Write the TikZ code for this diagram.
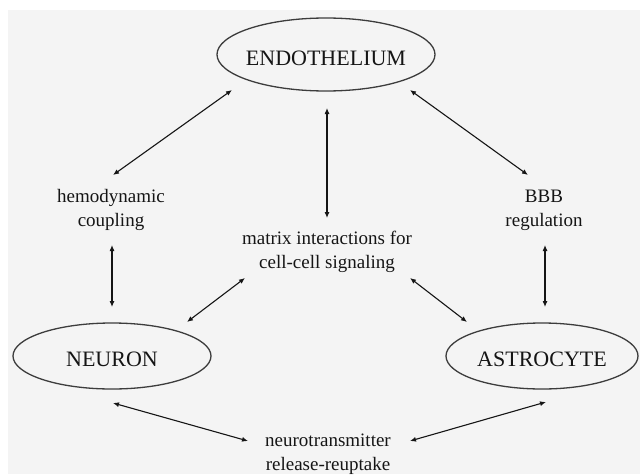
\documentclass[tikz,border=0pt]{standalone}
\usepackage{fontspec}
\setmainfont{Liberation Serif}
\usetikzlibrary{arrows.meta,shapes.geometric}
\definecolor{bgray}{HTML}{F4F4F4}
\definecolor{ink}{HTML}{151515}
\definecolor{edge}{HTML}{3C3C3C}
\begin{document}
\begin{tikzpicture}[x=1pt,y=-1pt,
  cell/.style={ellipse,draw=edge,line width=1.3pt,inner xsep=-8pt,inner ysep=0pt,
    text height=22pt,text depth=0.5pt,
    font=\fontsize{22}{26}\selectfont,text=ink},
  lab/.style={align=center,inner sep=0pt,font=\fontsize{19}{24}\selectfont,text=ink},
  arr/.style={draw=ink,line width=1.1pt,{Latex[length=6pt,width=5pt]}-{Latex[length=6pt,width=5pt]}}]
\useasboundingbox (0,0) rectangle (640,474);
\fill[white] (0,0) rectangle (640,474);
\fill[bgray] (8,10) rectangle (640,474);
% cells
\node[cell,minimum width=218pt,minimum height=73pt] (endo) at (326,54.5) {ENDOTHELIUM};
\node[cell,minimum width=198pt,minimum height=66pt] (neuron) at (112,356) {NEURON};
\node[cell,minimum width=192pt,minimum height=66pt] (astro) at (542,356) {ASTROCYTE};
% labels
\node[lab] (hemo) at (111,210) {hemodynamic\\coupling};
\node[lab] (bbb) at (544,210) {BBB\\regulation};
\node[lab] (matrix) at (327,252) {matrix interactions for\\cell-cell signaling};
\node[lab] (nt) at (328,454) {neurotransmitter\\release-reuptake};
% connectors
\draw[arr] ([shift={(-94,35.5)}]endo.center) -- ([shift={(2,-35)}]hemo.center);
\draw[arr] ([shift={(1,53.5)}]endo.center) -- ([shift={(0,-34)}]matrix.center);
\draw[arr] ([shift={(84,35.5)}]endo.center) -- ([shift={(-16,-35)}]bbb.center);
\draw[arr] ([shift={(1,35)}]hemo.center) -- ([shift={(0,-49)}]neuron.center);
\draw[arr] ([shift={(-82,26)}]matrix.center) -- ([shift={(75,-34)}]neuron.center);
\draw[arr] ([shift={(83,26)}]matrix.center) -- ([shift={(-75,-34)}]astro.center);
\draw[arr] ([shift={(1,35)}]bbb.center) -- ([shift={(3,-49)}]astro.center);
\draw[arr] ([shift={(1,47)}]neuron.center) -- ([shift={(-80,-13)}]nt.center);
\draw[arr] ([shift={(4,46)}]astro.center) -- ([shift={(82,-13)}]nt.center);
\end{tikzpicture}
\end{document}
